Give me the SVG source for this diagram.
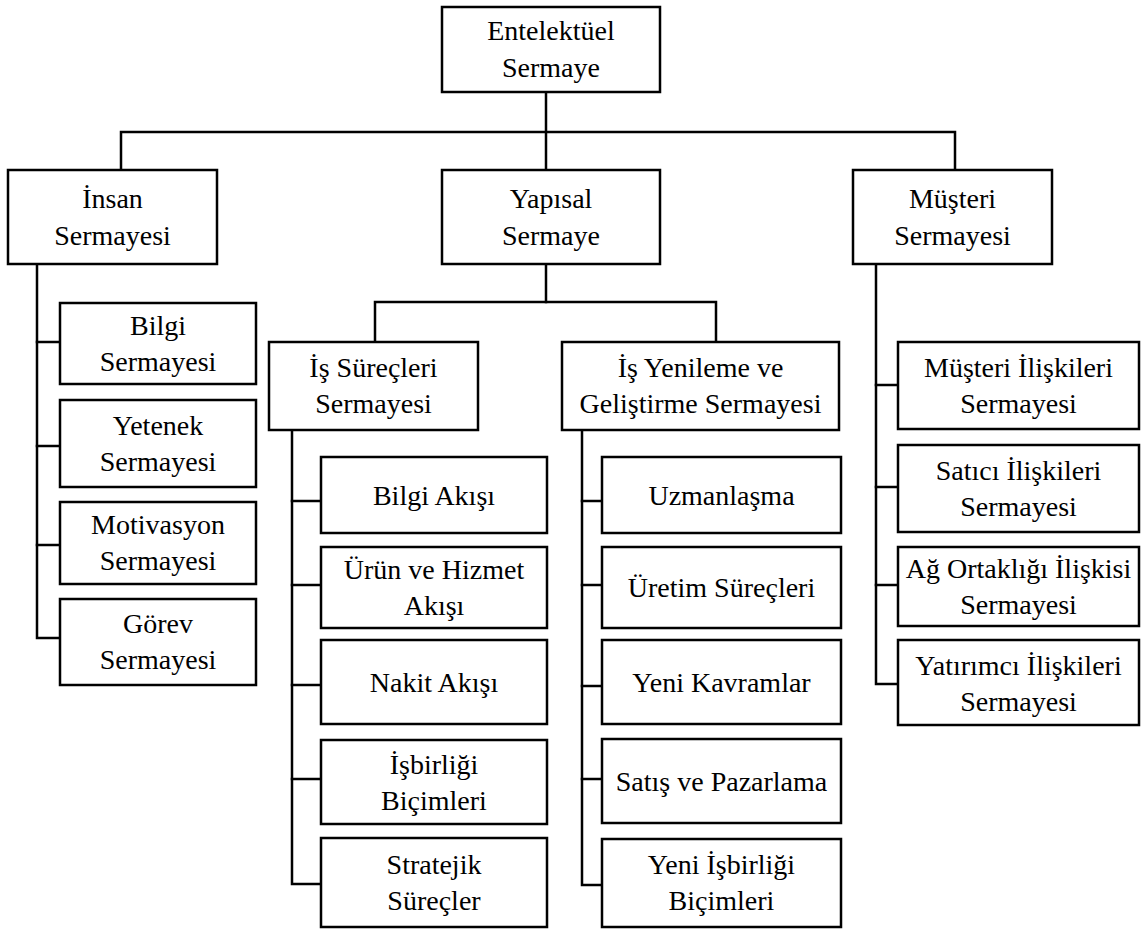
<svg xmlns="http://www.w3.org/2000/svg" width="1142" height="930" viewBox="0 0 1142 930">
  <style>
    .box { fill: #ffffff; stroke: #000000; stroke-width: 2.5; }
    .wire { fill: none; stroke: #000000; stroke-width: 2.5; stroke-linecap: square; }
  </style>
  <rect x="0" y="0" width="1142" height="930" fill="#ffffff"/>

  <!-- connectors -->
  <g id="connectors" class="wire">
    <!-- root to level 1 -->
    <path d="M546 92 V170"/>
    <path d="M121 170 V132 H955 V170"/>
    <!-- İnsan Sermayesi children -->
    <path d="M37 264 V638 H60"/>
    <path d="M37 342 H60 M37 446 H60 M37 545 H60"/>
    <!-- Yapısal Sermaye split -->
    <path d="M546 264 V302"/>
    <path d="M375 342 V302 H716 V342"/>
    <!-- İş Süreçleri children -->
    <path d="M292 430 V884 H321"/>
    <path d="M292 501 H321 M292 585 H321 M292 685 H321 M292 779 H321"/>
    <!-- İş Yenileme children -->
    <path d="M582 430 V885 H602"/>
    <path d="M582 501 H602 M582 585 H602 M582 686 H602 M582 779 H602"/>
    <!-- Müşteri Sermayesi children -->
    <path d="M876 264 V684 H898"/>
    <path d="M876 385 H898 M876 487 H898 M876 585 H898"/>
  </g>

  <g id="nodes" font-family="Liberation Serif, serif" font-size="28" fill="#000000" text-anchor="middle">
  <!-- root -->
  <g id="entelektuel">
    <rect class="box" x="442" y="7" width="218" height="85"/>
    <text><tspan x="551" y="40">Entelektüel</tspan><tspan x="551" y="77">Sermaye</tspan></text>
  </g>

  <!-- level 1 -->
  <g id="insan">
    <rect class="box" x="8" y="170" width="209" height="94"/>
    <text><tspan x="112.5" y="208">İnsan</tspan><tspan x="112.5" y="245">Sermayesi</tspan></text>
  </g>
  <g id="yapisal">
    <rect class="box" x="442" y="170" width="218" height="94"/>
    <text><tspan x="551" y="208">Yapısal</tspan><tspan x="551" y="245">Sermaye</tspan></text>
  </g>
  <g id="musteri">
    <rect class="box" x="853" y="170" width="199" height="94"/>
    <text><tspan x="952.5" y="208">Müşteri</tspan><tspan x="952.5" y="245">Sermayesi</tspan></text>
  </g>

  <!-- İnsan Sermayesi children -->
  <g id="bilgi-sermayesi">
    <rect class="box" x="60" y="303" width="196" height="81"/>
    <text><tspan x="158" y="335">Bilgi</tspan><tspan x="158" y="371">Sermayesi</tspan></text>
  </g>
  <g id="yetenek-sermayesi">
    <rect class="box" x="60" y="400" width="196" height="87"/>
    <text><tspan x="158" y="435">Yetenek</tspan><tspan x="158" y="471">Sermayesi</tspan></text>
  </g>
  <g id="motivasyon-sermayesi">
    <rect class="box" x="60" y="502" width="196" height="82"/>
    <text><tspan x="158" y="534">Motivasyon</tspan><tspan x="158" y="570">Sermayesi</tspan></text>
  </g>
  <g id="gorev-sermayesi">
    <rect class="box" x="60" y="599" width="196" height="86"/>
    <text><tspan x="158" y="633">Görev</tspan><tspan x="158" y="669">Sermayesi</tspan></text>
  </g>

  <!-- level 2 under Yapısal -->
  <g id="is-surecleri">
    <rect class="box" x="269" y="342" width="209" height="88"/>
    <text><tspan x="373.5" y="377">İş Süreçleri</tspan><tspan x="373.5" y="413">Sermayesi</tspan></text>
  </g>
  <g id="is-yenileme">
    <rect class="box" x="562" y="342" width="277" height="88"/>
    <text><tspan x="700.5" y="377">İş Yenileme ve</tspan><tspan x="700.5" y="413">Geliştirme Sermayesi</tspan></text>
  </g>

  <!-- İş Süreçleri children -->
  <g id="bilgi-akisi">
    <rect class="box" x="321" y="457" width="226" height="76"/>
    <text x="434" y="505">Bilgi Akışı</text>
  </g>
  <g id="urun-hizmet-akisi">
    <rect class="box" x="321" y="547" width="226" height="81"/>
    <text><tspan x="434" y="579">Ürün ve Hizmet</tspan><tspan x="434" y="615">Akışı</tspan></text>
  </g>
  <g id="nakit-akisi">
    <rect class="box" x="321" y="640" width="226" height="84"/>
    <text x="434" y="692">Nakit Akışı</text>
  </g>
  <g id="isbirligi-bicimleri">
    <rect class="box" x="321" y="740" width="226" height="84"/>
    <text><tspan x="434" y="774">İşbirliği</tspan><tspan x="434" y="810">Biçimleri</tspan></text>
  </g>
  <g id="stratejik-surecler">
    <rect class="box" x="321" y="838" width="226" height="89"/>
    <text><tspan x="434" y="874">Stratejik</tspan><tspan x="434" y="910">Süreçler</tspan></text>
  </g>

  <!-- İş Yenileme children -->
  <g id="uzmanlasma">
    <rect class="box" x="602" y="457" width="239" height="76"/>
    <text x="721.5" y="505">Uzmanlaşma</text>
  </g>
  <g id="uretim-surecleri">
    <rect class="box" x="602" y="547" width="239" height="81"/>
    <text x="721.5" y="597">Üretim Süreçleri</text>
  </g>
  <g id="yeni-kavramlar">
    <rect class="box" x="602" y="640" width="239" height="84"/>
    <text x="721.5" y="692">Yeni Kavramlar</text>
  </g>
  <g id="satis-pazarlama">
    <rect class="box" x="602" y="739" width="239" height="84"/>
    <text x="721.5" y="791">Satış ve Pazarlama</text>
  </g>
  <g id="yeni-isbirligi-bicimleri">
    <rect class="box" x="602" y="839" width="239" height="88"/>
    <text><tspan x="721.5" y="874">Yeni İşbirliği</tspan><tspan x="721.5" y="910">Biçimleri</tspan></text>
  </g>

  <!-- Müşteri Sermayesi children -->
  <g id="musteri-iliskileri">
    <rect class="box" x="898" y="342" width="241" height="87"/>
    <text><tspan x="1018.5" y="377">Müşteri İlişkileri</tspan><tspan x="1018.5" y="413">Sermayesi</tspan></text>
  </g>
  <g id="satici-iliskileri">
    <rect class="box" x="898" y="445" width="241" height="87"/>
    <text><tspan x="1018.5" y="480">Satıcı İlişkileri</tspan><tspan x="1018.5" y="516">Sermayesi</tspan></text>
  </g>
  <g id="ag-ortakligi">
    <rect class="box" x="898" y="547" width="241" height="79"/>
    <text><tspan x="1018.5" y="578">Ağ Ortaklığı İlişkisi</tspan><tspan x="1018.5" y="614">Sermayesi</tspan></text>
  </g>
  <g id="yatirimci-iliskileri">
    <rect class="box" x="898" y="640" width="241" height="85"/>
    <text><tspan x="1018.5" y="675">Yatırımcı İlişkileri</tspan><tspan x="1018.5" y="711">Sermayesi</tspan></text>
  </g>
  </g>
</svg>
